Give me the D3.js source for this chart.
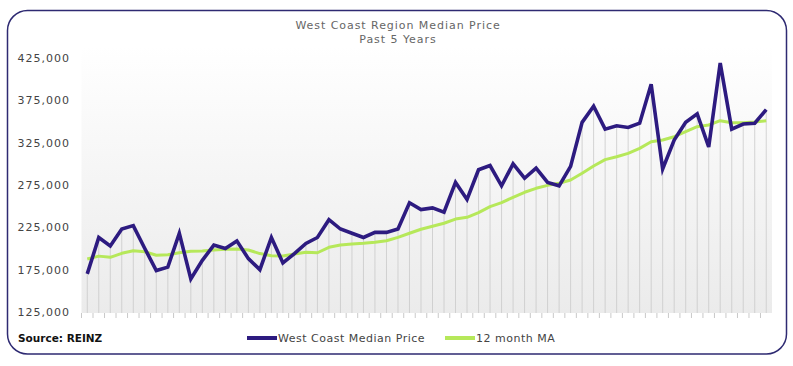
<meta charset="utf-8">
<head>
  <script src="https://d3js.org/d3.v7.min.js"></script>
  <style>
    html, body { margin: 0; padding: 0; background: #fff; }
    svg { display: block; }
  </style>
</head>
<body>
  <svg id="svg" width="793" height="366"></svg>
  <script>
    const title = "West Coast Region Median Price";
    const subtitle = "Past 5 Years";
    const source = "Source: REINZ";
    const seriesNames = ["West Coast Median Price", "12 month MA"];
    const yTicks = [125000, 175000, 225000, 275000, 325000, 375000, 425000];

    // monthly values, oldest first
    const medianPrice = [
      170000, 213000, 203000, 223000, 227000, 200000, 174000, 178000, 218000, 164000,
      186000, 204000, 200000, 209000, 188000, 175000, 213000, 183000, 194000, 206000,
      213000, 234000, 223000, 218000, 213000, 219000, 219000, 223000, 254000, 246000,
      248000, 243000, 278000, 258000, 293000, 298000, 274000, 300000, 283000, 295000,
      278000, 274000, 297000, 349000, 368000, 341000, 345000, 343000, 348000, 394000,
      294000, 328000, 349000, 359000, 320000, 419000, 341000, 347000, 348000, 364000
    ];
    const movingAvg = [
      187600, 191000, 189600, 194300, 197400, 196200, 192000, 192700, 195000, 196700,
      197000, 198200, 199000, 199400, 198200, 194000, 191500, 191100, 193500, 195500,
      195000, 201400, 204100, 205300, 206100, 207300, 209200, 213200, 218000, 222700,
      226300, 229800, 234800, 236800, 242300, 249400, 254100, 260500, 266400, 271100,
      274600, 277000, 280900, 288800, 297400, 305000, 308400, 312400, 318300, 326100,
      328100, 332000, 338000, 343900, 345900, 351000, 348600, 348600, 349400, 351000
    ];

    const svg = d3.select("#svg");
    const font = "'DejaVu Sans', sans-serif";
    const blue = "#2d1b80";
    const green = "#b6e85a";

    // frame
    svg.append("rect")
      .attr("x", 7.5).attr("y", 10.5)
      .attr("width", 779).attr("height", 343.5)
      .attr("rx", 20).attr("ry", 20)
      .attr("fill", "#fff")
      .attr("stroke", "#2e2a72")
      .attr("stroke-width", 1.5);

    svg.append("text")
      .attr("x", 398).attr("y", 29)
      .attr("text-anchor", "middle")
      .attr("font-family", font).attr("font-size", 11)
      .attr("letter-spacing", 0.95)
      .attr("fill", "#666")
      .text(title);
    svg.append("text")
      .attr("x", 398).attr("y", 43)
      .attr("text-anchor", "middle")
      .attr("font-family", font).attr("font-size", 11)
      .attr("letter-spacing", 0.95)
      .attr("fill", "#666")
      .text(subtitle);

    const plotLeft = 81.5, plotRight = 772, plotTop = 46, plotBottom = 313;
    const idx = medianPrice.map((d, i) => i);

    const x = d3.scaleBand()
      .domain(idx)
      .range([plotLeft, plotRight]);

    const y = d3.scaleLinear()
      .domain([125000, 425000])
      .range([312, 58]);

    const cx = i => x(i) + x.bandwidth() / 2;

    // plot background gradient
    const defs = svg.append("defs");
    const grad = defs.append("linearGradient")
      .attr("id", "bg").attr("x1", 0).attr("y1", 0).attr("x2", 0).attr("y2", 1);
    grad.append("stop").attr("offset", "0%").attr("stop-color", "#ffffff");
    grad.append("stop").attr("offset", "100%").attr("stop-color", "#ebebeb");

    svg.append("rect")
      .attr("x", plotLeft).attr("y", plotTop)
      .attr("width", plotRight - plotLeft).attr("height", plotBottom - plotTop)
      .attr("fill", "url(#bg)");

    // drop lines from each point
    svg.append("g")
      .selectAll("line")
      .data(medianPrice)
      .enter().append("line")
      .attr("x1", (d, i) => cx(i)).attr("x2", (d, i) => cx(i))
      .attr("y1", d => y(d)).attr("y2", plotBottom)
      .attr("stroke", "#c9c9c9")
      .attr("stroke-width", 0.8);

    // x ticks at band edges
    const xAxis = svg.append("g")
      .attr("transform", `translate(0,${plotBottom})`)
      .call(d3.axisBottom(x).tickSize(5).tickFormat(""));
    xAxis.select(".domain").remove();
    xAxis.selectAll(".tick line")
      .attr("transform", `translate(${-x.bandwidth() / 2},0)`)
      .attr("stroke", "#bbb").attr("stroke-width", 0.8);

    // y axis labels
    const yAxis = svg.append("g")
      .attr("transform", `translate(70,0)`)
      .call(d3.axisLeft(y).tickValues(yTicks).tickSize(0).tickPadding(0)
        .tickFormat(d3.format(",")));
    yAxis.select(".domain").remove();
    yAxis.selectAll("text")
      .attr("font-family", font).attr("font-size", 11)
      .attr("letter-spacing", 1)
      .attr("fill", "#444");

    const line = d3.line()
      .x((d, i) => cx(i))
      .y(d => y(d));

    svg.append("path")
      .datum(movingAvg)
      .attr("d", line)
      .attr("fill", "none")
      .attr("stroke", green)
      .attr("stroke-width", 3)
      .attr("stroke-linejoin", "round");

    svg.append("path")
      .datum(medianPrice)
      .attr("d", line)
      .attr("fill", "none")
      .attr("stroke", blue)
      .attr("stroke-width", 3.6)
      .attr("stroke-linejoin", "miter");

    // footer
    svg.append("text")
      .attr("x", 18).attr("y", 342)
      .attr("font-family", font).attr("font-size", 10.5)
      .attr("font-weight", "bold")
      .attr("fill", "#111")
      .text(source);

    const legend = [
      {name: seriesNames[0], color: blue, x: 247},
      {name: seriesNames[1], color: green, x: 445}
    ];
    const lg = svg.append("g").selectAll("g")
      .data(legend)
      .enter().append("g")
      .attr("transform", d => `translate(${d.x},338)`);
    lg.append("rect")
      .attr("x", 0).attr("y", -2)
      .attr("width", 30).attr("height", 4)
      .attr("fill", d => d.color);
    lg.append("text")
      .attr("x", 31).attr("y", 4)
      .attr("font-family", font).attr("font-size", 11)
      .attr("letter-spacing", 0.5)
      .attr("fill", "#444")
      .text(d => d.name);
  </script>
</body>
